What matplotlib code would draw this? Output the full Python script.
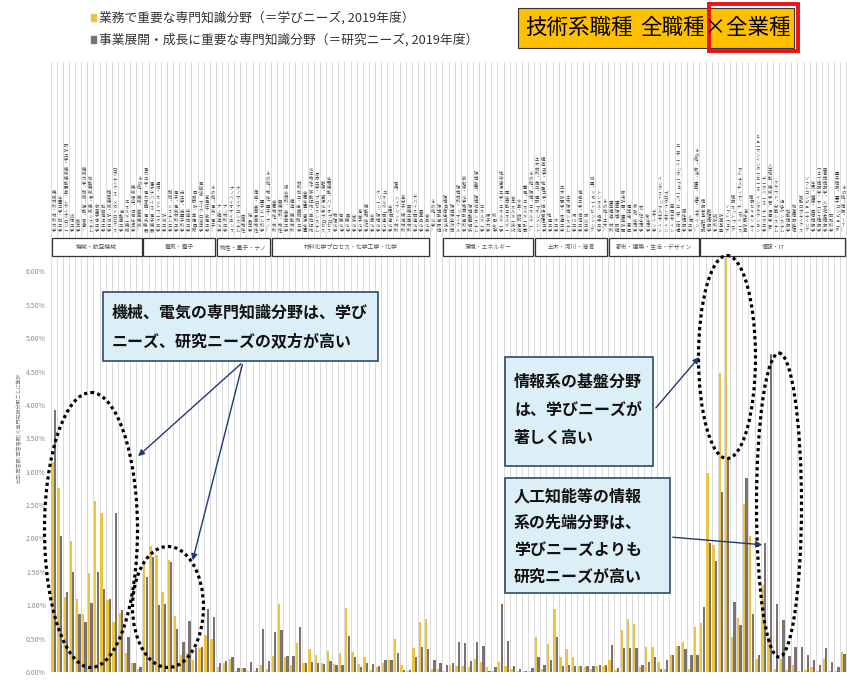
import numpy as np
import matplotlib
matplotlib.use("Agg")
import matplotlib.pyplot as plt
from matplotlib.patches import Rectangle, Ellipse

plt.rcParams['font.family'] = ['Noto Sans CJK JP', 'DejaVu Sans']

# ---------------------------------------------------------------------------
# Data (values in %)
# ---------------------------------------------------------------------------

groups = ["機械・航空機械", "電気・電子", "物性・量子・ナノ", "材料化学プロセス・化学工学・化学",
          "環境・エネルギー", "土木・河川・港湾", "都市・建築・生活・デザイン", "情報・IT"]
# first / last category (1-based) covered by each group box
group_spans = [(1, 15), (16, 27), (28, 36), (37, 62), (65, 79), (80, 91), (92, 106), (107, 130)]

fields = [
    # 機械・航空機械
    "機械材料・材料力学", "生産工学・加工学", "設計工学・機械機能要素・トライボロジー", "流体工学",
    "熱工学", "機械力学・制御（振動・音響）", "知能機械学・機械システム", "航空宇宙工学",
    "船舶海洋工学", "精密機械・計測工学", "ロボティクス・メカトロニクス", "自動車工学",
    "エネルギー機械", "機械保全・信頼性工学", "その他（機械・航空機械）",
    # 電気・電子
    "電力工学・電力変換・電気機器", "電子デバイス・電子機器", "通信・ネットワーク工学", "計測工学",
    "制御・システム工学", "電子・電気材料工学", "光工学・光量子科学", "半導体工学",
    "回路設計・集積回路", "電磁波・マイクロ波工学", "高電圧・放電工学", "その他（電気・電子）",
    # 物性・量子・ナノ
    "ナノ構造化学", "ナノ材料工学", "ナノバイオサイエンス", "ナノマイクロシステム", "応用物性",
    "結晶工学", "薄膜・表面界面物性", "量子ビーム科学", "その他（物性・量子・ナノ）",
    # 材料化学プロセス・化学工学・化学
    "金属物性・材料", "無機材料・物性", "複合材料・表界面工学", "構造・機能材料",
    "材料加工・組織制御工学", "金属生産・資源生産", "化工物性・移動操作・単位操作",
    "反応工学・プロセスシステム", "触媒・資源化学プロセス", "生物機能・バイオプロセス", "物理化学",
    "有機化学", "無機化学", "分析化学", "高分子化学", "機能物性化学", "合成化学",
    "グリーン・環境化学", "エネルギー関連化学", "生体関連化学", "有機・ハイブリッド材料",
    "高分子・繊維材料", "無機工業材料", "デバイス関連化学", "医薬品化学", "食品化学", "その他（化学）",
    # 環境・エネルギー
    "環境影響評価", "環境負荷低減技術", "環境保全対策", "環境材料・リサイクル",
    "放射線・化学物質影響科学", "環境動態解析", "環境政策・環境社会システム", "エネルギー学",
    "原子力学", "核融合学", "地球資源工学・エネルギー学", "再生可能エネルギー", "省エネルギー技術",
    "水素・燃料電池", "蓄電・エネルギー貯蔵", "その他（環境・エネルギー）",
    # 土木・河川・港湾
    "土木材料・施工・建設マネジメント", "構造工学・地震工学・維持管理工学", "地盤工学", "水工学",
    "土木計画学・交通工学", "土木環境システム", "河川工学", "海岸工学・港湾工学", "防災工学",
    "測量・リモートセンシング", "トンネル・橋梁工学", "その他（土木）",
    # 都市・建築・生活・デザイン
    "建築構造・材料", "建築環境・設備", "都市計画・建築計画", "建築史・意匠", "家政・生活学",
    "衣・住生活学", "食生活学", "デザイン学", "インダストリアルデザイン", "プロダクトデザイン",
    "空間デザイン", "ユーザーインターフェース・ユーザー体験", "感性情報学", "人間工学",
    "その他（都市・建築・生活・デザイン）",
    # 情報・IT
    "情報学基礎理論", "数理情報学", "統計科学", "計算基盤", "ソフトウェア", "情報ネットワーク",
    "マルチメディア・データベース", "高性能計算", "情報セキュリティ",
    "ヒューマンインタフェース・インタラクション", "データベース・データ工学",
    "人工知能（機械学習、深層学習）", "クラウド・分散システム", "組込みシステム", "知能情報学",
    "知覚情報処理", "知能ロボティクス", "ソフトコンピューティング", "生命・健康・医療情報学",
    "ウェブ情報学・サービス情報学", "図書館情報学・人文社会情報学", "認知科学",
    "量子情報・量子コンピュータ", "その他（情報・IT）",
]

# 学びニーズ (業務で重要な専門知識分野)
manabi = [
    3.15, 2.75, 1.12, 1.96, 1.10, 0.87, 1.48, 2.56, 2.38, 1.08, 0.75, 0.88, 0.28, 0.13, 0.05,
    1.62, 1.88, 1.75, 1.20, 1.68, 0.84, 0.25, 0.28, 0.18, 0.36, 0.55, 0.50,
    0.08, 0.13, 0.20, 0.02, 0.06, 0.02, 0.02, 0.10, 0.04,
    0.24, 1.02, 0.22, 0.11, 0.43, 0.13, 0.35, 0.26, 0.13, 0.32, 0.12, 0.28, 0.96, 0.30,
    0.12, 0.23, 0.03, 0.07, 0.14, 0.18, 0.49, 0.10, 0.02, 0.36, 0.75, 0.79, 0.05,
    0.05, 0.02, 0.10, 0.09, 0.09, 0.07, 0.20, 0.15, 0.07, 0.02, 0.15, 0.09, 0.05, 0.02, 0.02, 0.02,
    0.52, 0.05, 0.42, 0.94, 0.22, 0.34, 0.22, 0.09, 0.07, 0.05, 0.09, 0.09,
    0.18, 0.03, 0.63, 0.79, 0.72, 0.07, 0.37, 0.37, 0.15, 0.05, 0.26, 0.39, 0.45, 0.04, 0.68,
    0.73, 2.98, 1.90, 4.48, 6.50, 0.52, 0.81, 2.51, 2.04, 0.19, 1.30, 0.52, 0.05, 0.20,
    0.03, 0.10, 0.02, 0.03, 0.08, 0.02, 0.20, 0.02, 0.01, 0.30,
]

# 研究ニーズ (事業展開・成長に重要な専門知識分野)
kenkyu = [
    3.92, 2.04, 1.20, 1.50, 0.87, 0.75, 1.03, 1.50, 1.24, 1.10, 2.38, 0.93, 0.52, 0.13, 0.07,
    1.42, 1.72, 1.00, 1.02, 1.64, 0.64, 0.45, 0.76, 0.36, 0.38, 0.94, 0.82,
    0.13, 0.17, 0.22, 0.06, 0.06, 0.15, 0.06, 0.64, 0.16,
    0.60, 0.63, 0.24, 0.24, 0.68, 0.13, 0.15, 0.13, 0.12, 0.17, 0.11, 0.11, 0.54, 0.22,
    0.07, 0.14, 0.12, 0.09, 0.18, 0.18, 0.29, 0.03, 0.03, 0.22, 0.37, 0.35, 0.18,
    0.13, 0.10, 0.14, 0.45, 0.44, 0.16, 0.45, 0.39, 0.02, 0.07, 1.02, 0.46, 0.09, 0.04, 0.02, 0.06,
    0.23, 0.11, 0.18, 0.53, 0.09, 0.11, 0.09, 0.09, 0.09, 0.09, 0.10, 0.11,
    0.40, 0.06, 0.36, 0.36, 0.36, 0.10, 0.15, 0.22, 0.04, 0.18, 0.26, 0.39, 0.34, 0.26, 0.25,
    0.97, 1.93, 1.66, 2.69, 3.20, 1.05, 0.70, 2.90, 0.87, 0.25, 1.93, 4.76, 1.02, 0.78,
    0.24, 0.37, 0.37, 0.25, 0.18, 0.10, 0.36, 0.15, 0.07, 0.27,
]

yticks = [0, 0.5, 1.0, 1.5, 2.0, 2.5, 3.0, 3.5, 4.0, 4.5, 5.0, 5.5, 6.0]

YELLOW = "#EBC440"
GREY = "#7B7274"
GRID = "#DADADA"
BOX_FILL = "#DCEEF6"
BOX_EDGE = "#2E4A66"
ARROW = "#1F3B73"

# ---------------------------------------------------------------------------
# Figure
# ---------------------------------------------------------------------------

W, H = 847, 687
fig = plt.figure(figsize=(W / 100, H / 100), dpi=100)

x = np.arange(1, len(manabi) + 1)
XLIM = (0.4, 130.6)

# --- bar panel ---
ax = fig.add_axes([50 / W, 1 - 672 / H, 797 / W, (672 - 258) / H])
ax.bar(x - 0.2, manabi, width=0.38, color=YELLOW, zorder=2)
ax.bar(x + 0.2, kenkyu, width=0.38, color=GREY, zorder=2)
ax.set_xlim(*XLIM)
ax.set_ylim(0, 6.2)
for xb in np.arange(0.5, len(x) + 1, 1.0):
    ax.axvline(xb, color=GRID, lw=0.7, zorder=0)
ax.axhline(0, color="#BBBBBB", lw=0.6, zorder=1)
ax.set_xticks([])
ax.set_yticks(yticks)
ax.set_yticklabels([f"{v:.2f}%" for v in yticks])
ax.tick_params(axis="y", length=0, labelsize=5, labelcolor="#8C8C8C", pad=3)
for s in ax.spines.values():
    s.set_visible(False)

fig.text(19 / W, 1 - 428 / H, "比率(回答数/回答者数)※専門知識分野ごとに集計",
         rotation=90, fontsize=3.6, color="#777777", ha="center", va="center")

# --- category label panel ---
lax = fig.add_axes([50 / W, 1 - 258 / H, 797 / W, (258 - 62) / H])
lax.set_xlim(*XLIM)
lax.set_ylim(0, 1)
lax.axis("off")
for xb in np.arange(0.5, len(x) + 1, 1.0):
    lax.axvline(xb, color=GRID, lw=0.7, zorder=0)
for xi, name in zip(x, fields):
    lax.text(xi, 0.13, "\n".join(name), ha="center", va="bottom", fontsize=3.1,
             linespacing=0.92, color="#444444", zorder=2)
for (s, e), g in zip(group_spans, groups):
    lax.add_patch(Rectangle((s - 0.35, 0.01), e - s + 0.7, 0.092, facecolor="white",
                            edgecolor="#333333", lw=0.9, zorder=3))
    lax.text((s + e) / 2, 0.056, g, ha="center", va="center", fontsize=4.2,
             color="#555555", zorder=4)

# --- overlay (annotations, pixel coordinates) ---
ov = fig.add_axes([0, 0, 1, 1])
ov.set_xlim(0, W)
ov.set_ylim(H, 0)
ov.axis("off")

# legend
ov.add_patch(Rectangle((91, 14), 5, 7, color=YELLOW))
ov.text(99, 18, "業務で重要な専門知識分野（＝学びニーズ, 2019年度）", fontsize=9.2,
        va="center", ha="left", color="#333333")
ov.add_patch(Rectangle((91, 36), 5, 7, color=GREY))
ov.text(99, 40, "事業展開・成長に重要な専門知識分野（＝研究ニーズ, 2019年度）", fontsize=9.2,
        va="center", ha="left", color="#333333")

# title box
ov.add_patch(Rectangle((518, 8), 276, 40, facecolor="#FFC000", edgecolor="#333333", lw=0.8))
ov.text(525, 28, "技術系職種", fontsize=15.5, va="center", ha="left")
ov.text(640, 28, "全職種×全業種", fontsize=15.5, va="center", ha="left")
ov.add_patch(Rectangle((709, 4), 89, 47, fill=False, edgecolor="#EE1111", lw=2.8))

# dotted ellipses
for (cx, cy, ew, eh) in [(91, 530, 93, 275), (168, 607, 71, 121),
                         (727, 357, 57, 203), (779, 505, 45, 304)]:
    ov.add_patch(Ellipse((cx, cy), ew, eh, fill=False, edgecolor="black", lw=2.3,
                         linestyle=(0, (1, 1))))

# callout boxes
def callout(x0, y0, w, h, lines, ys):
    ov.add_patch(Rectangle((x0, y0), w, h, facecolor=BOX_FILL, edgecolor=BOX_EDGE, lw=1.2))
    for line, yy in zip(lines, ys):
        ov.text(x0 + 9, yy, line, fontsize=11.5, fontweight="bold", va="center", ha="left",
                color="#111111")

callout(103, 292, 275, 69, ["機械、電気の専門知識分野は、学び", "ニーズ、研究ニーズの双方が高い"],
        [313, 341])
callout(505, 357, 148, 109, ["情報系の基盤分野", "は、学びニーズが", "著しく高い"],
        [382, 410, 438])
callout(505, 478, 165, 115, ["人工知能等の情報", "系の先端分野は、", "学びニーズよりも", "研究ニーズが高い"],
        [497, 523, 550, 577])

# arrows
arrow_kw = dict(arrowstyle="-|>", color=ARROW, lw=1.0, mutation_scale=9)
ov.annotate("", xy=(136, 458), xytext=(243, 362), arrowprops=arrow_kw)
ov.annotate("", xy=(192, 563), xytext=(243, 362), arrowprops=arrow_kw)
ov.annotate("", xy=(701, 355), xytext=(654, 410), arrowprops=arrow_kw)
ov.annotate("", xy=(765, 545), xytext=(670, 537), arrowprops=arrow_kw)

fig.savefig("out.png", dpi=100)
plt.close(fig)
